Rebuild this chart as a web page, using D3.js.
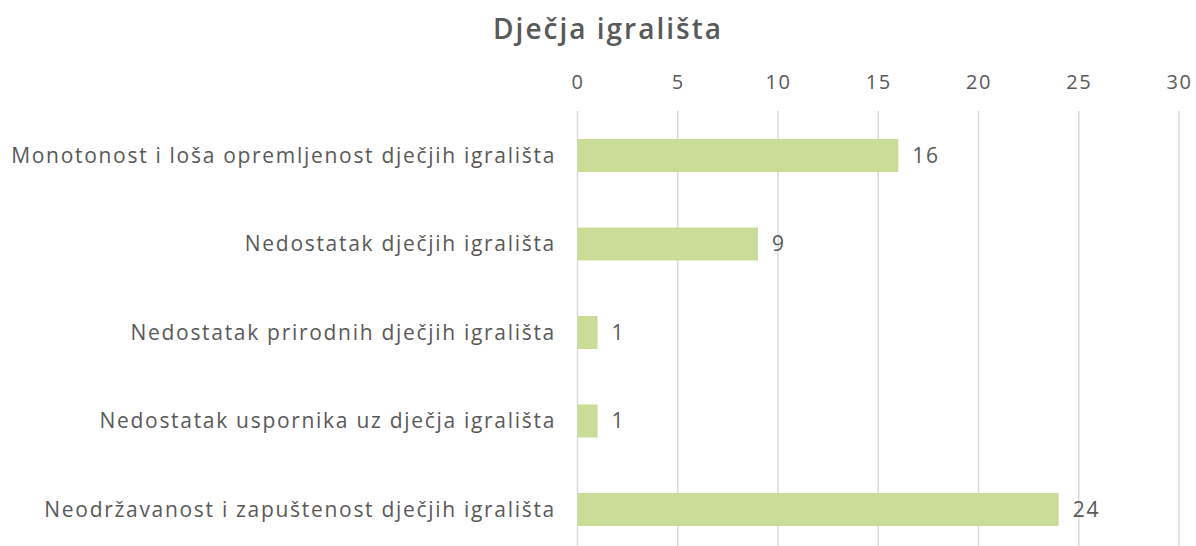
<!DOCTYPE html>
<html>
<head>
<meta charset="utf-8">
<script src="https://cdn.jsdelivr.net/npm/d3@7"></script>
<style>
  html, body { margin: 0; padding: 0; background: #fff; }
  svg { display: block; }
  text { font-family: "Open Sans", "Noto Sans", sans-serif; fill: #595959; }
</style>
</head>
<body>
<svg id="chart" width="1196" height="546"></svg>
<script>
// Chart data
const categories = [
  "Monotonost i loša opremljenost dječjih igrališta",
  "Nedostatak dječjih igrališta",
  "Nedostatak prirodnih dječjih igrališta",
  "Nedostatak uspornika uz dječja igrališta",
  "Neodržavanost i zapuštenost dječjih igrališta"
];
const values = [16, 9, 1, 1, 24];
const tickValues = [0, 5, 10, 15, 20, 25, 30];
const title = "Dječja igrališta";

const svg = d3.select("#chart");
const W = 1196, H = 546;

const x = d3.scaleLinear().domain([0, 30]).range([577.5, 1179]);
const y = d3.scaleBand()
  .domain(categories)
  .range([111.25, 553.75])
  .paddingInner(0.627)
  .paddingOuter(0.3135);

// Title
svg.append("text")
  .attr("x", 608)
  .attr("y", 39)
  .attr("text-anchor", "middle")
  .style("font-size", "28px")
  .style("font-weight", "600")
  .style("letter-spacing", "2px")
  .text(title);

// Vertical gridlines
svg.append("g")
  .selectAll("line")
  .data(tickValues)
  .join("line")
  .attr("x1", d => x(d))
  .attr("x2", d => x(d))
  .attr("y1", 111)
  .attr("y2", H)
  .attr("stroke", "#d9d9d9")
  .attr("stroke-width", 1.5);

// Top axis labels
const axis = d3.axisTop(x).tickValues(tickValues).tickSize(0).tickPadding(0);
const gAxis = svg.append("g").attr("transform", "translate(0,89)").call(axis);
gAxis.select(".domain").remove();
gAxis.selectAll("text")
  .attr("y", 0)
  .attr("dy", 0)
  .style("font-family", "'Open Sans', 'Noto Sans', sans-serif")
  .style("font-size", "20px")
  .style("letter-spacing", "1.5px")
  .style("fill", "#595959");

// Bars
svg.append("g")
  .selectAll("rect")
  .data(values)
  .join("rect")
  .attr("x", x(0))
  .attr("y", (d, i) => y(categories[i]))
  .attr("width", d => x(d) - x(0))
  .attr("height", y.bandwidth())
  .attr("fill", "#c9dd98");

// Value labels
svg.append("g")
  .selectAll("text")
  .data(values)
  .join("text")
  .attr("x", d => x(d) + 14)
  .attr("y", (d, i) => y(categories[i]) + y.bandwidth() / 2)
  .attr("dy", "0.35em")
  .style("font-size", "21px")
  .style("letter-spacing", "1.8px")
  .text(d => d);

// Category labels
svg.append("g")
  .selectAll("text")
  .data(categories)
  .join("text")
  .attr("x", 556)
  .attr("y", d => y(d) + y.bandwidth() / 2)
  .attr("dy", "0.35em")
  .attr("text-anchor", "end")
  .style("font-size", "21px")
  .style("letter-spacing", "1.7px")
  .text(d => d);
</script>
</body>
</html>
